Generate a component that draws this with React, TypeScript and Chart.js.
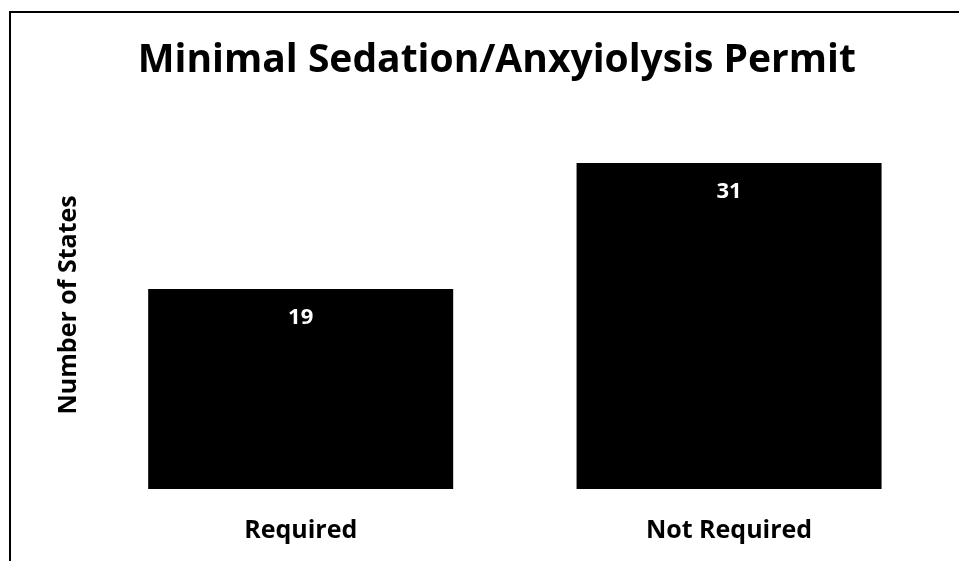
import React, { useEffect, useRef } from "react";
import { Chart, registerables } from "chart.js";

Chart.register(...registerables);

const chartTitle = "Minimal Sedation/Anxyiolysis Permit";
const yAxisTitle = "Number of States";
const categories = ["Required", "Not Required"];
const stateCounts = [19, 31];
const yMin = 0;
const yMax = 35;

const FONT = '"Open Sans", "Liberation Sans", sans-serif';

const valueLabelPlugin = {
  id: "valueLabels",
  afterDatasetsDraw(chart: any) {
    const { ctx } = chart;
    const meta = chart.getDatasetMeta(0);
    const data = chart.data.datasets[0].data as number[];
    ctx.save();
    ctx.fillStyle = "#ffffff";
    ctx.font = `bold 22px ${FONT}`;
    ctx.textAlign = "center";
    ctx.textBaseline = "middle";
    meta.data.forEach((bar: any, i: number) => {
      ctx.fillText(String(data[i]), bar.x, bar.y + 29);
    });
    ctx.restore();
  },
};

export default function App() {
  const canvasRef = useRef<HTMLCanvasElement | null>(null);

  useEffect(() => {
    if (!canvasRef.current) return;
    const chart = new Chart(canvasRef.current, {
      type: "bar",
      data: {
        labels: categories,
        datasets: [
          {
            data: stateCounts,
            backgroundColor: "#000000",
            borderWidth: 0,
            categoryPercentage: 1,
            barPercentage: 0.712,
          },
        ],
      },
      options: {
        animation: false,
        responsive: true,
        maintainAspectRatio: false,
        layout: { padding: { left: 50.5, right: 15.75, top: 0, bottom: 15.5 } },
        plugins: {
          legend: { display: false },
          tooltip: { enabled: false },
          title: {
            display: true,
            text: chartTitle,
            color: "#000000",
            font: { family: FONT, size: 39, weight: "bold" },
            padding: { top: 37, bottom: 37 },
          },
        },
        scales: {
          x: {
            grid: { display: false, drawTicks: false },
            border: { display: false },
            ticks: {
              color: "#000000",
              padding: 26.5,
              font: { family: FONT, size: 25, weight: "bold" },
            },
            afterFit: (scale: any) => {
              scale.height = 56.5;
            },
          },
          y: {
            min: yMin,
            max: yMax,
            grid: { display: false, drawTicks: false },
            border: { display: false },
            ticks: { display: false },
            title: {
              display: true,
              text: yAxisTitle,
              color: "#000000",
              font: { family: FONT, size: 25, weight: "bold" },
              padding: { top: 3, bottom: 3 },
            },
          },
        },
      },
      plugins: [valueLabelPlugin],
    });
    return () => chart.destroy();
  }, []);

  return (
    <div
      style={{
        position: "fixed",
        left: 0,
        top: 0,
        width: 959,
        height: 561,
        background: "#ffffff",
      }}
    >
      <canvas ref={canvasRef} />
      <div
        style={{
          position: "absolute",
          left: 9,
          top: 11,
          width: 950,
          height: 550,
          borderLeft: "2px solid #000",
          borderTop: "2px solid #000",
          boxSizing: "border-box",
          pointerEvents: "none",
        }}
      />
    </div>
  );
}
